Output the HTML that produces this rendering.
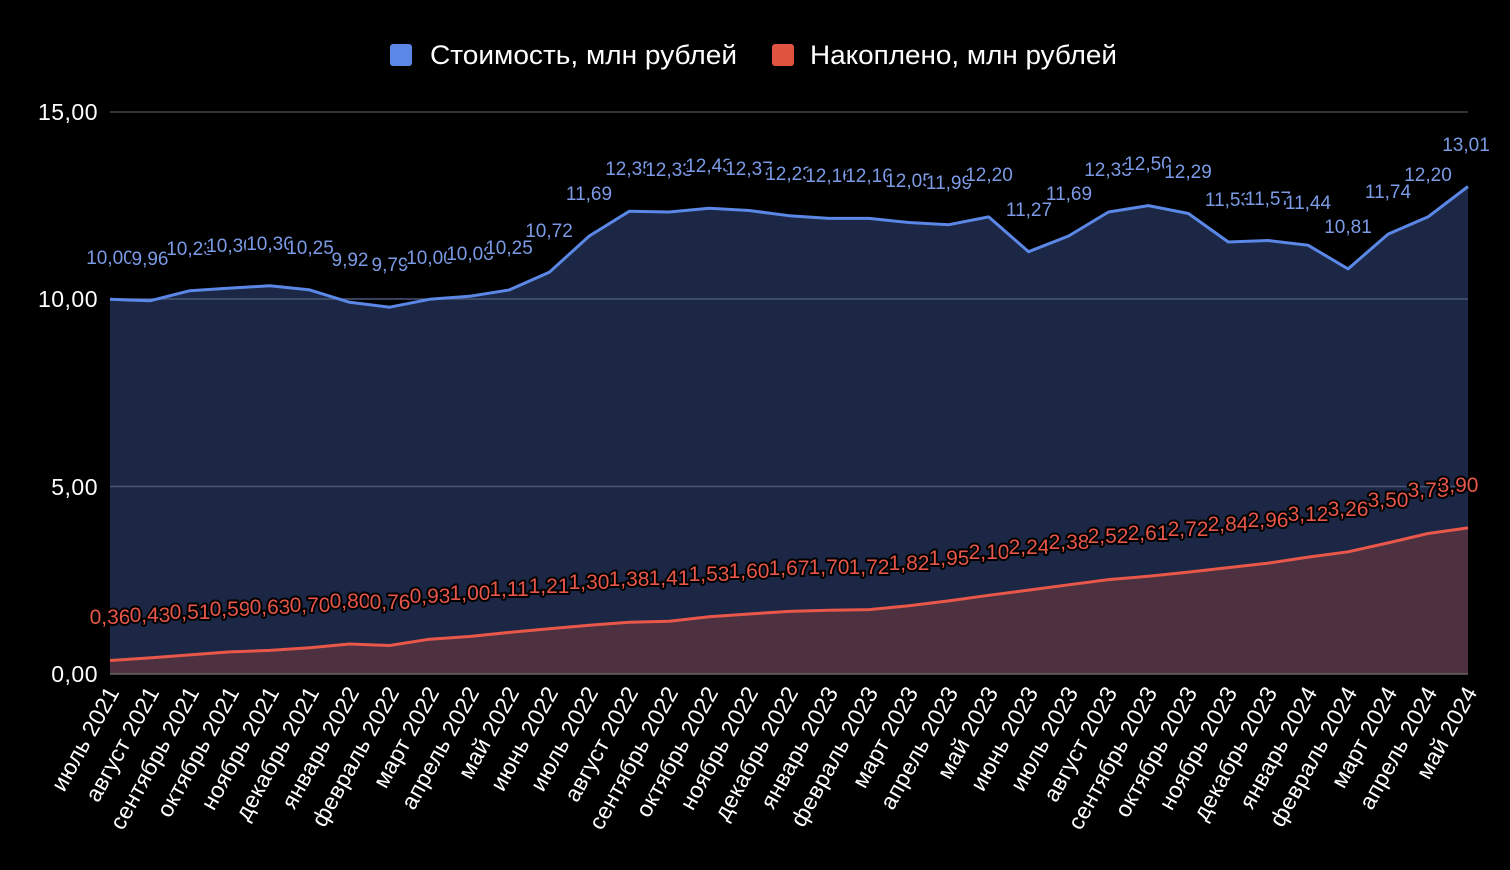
<!DOCTYPE html>
<html><head><meta charset="utf-8"><style>
html,body{margin:0;padding:0;background:#000;}
svg{display:block;font-family:"Liberation Sans",sans-serif;}
.bl{fill:#7b9be6;font-size:19px;text-anchor:middle;paint-order:stroke;stroke:#000;stroke-width:4px;stroke-linejoin:round;}
.rl{fill:#e8574a;font-size:21px;text-anchor:middle;paint-order:stroke;stroke:#000;stroke-width:4px;stroke-linejoin:round;}
.xl{fill:#fff;font-size:23px;text-anchor:end;letter-spacing:0.3px;}
.yl{fill:#fff;font-size:23px;text-anchor:end;letter-spacing:0.5px;}
</style></head><body>
<svg width="1510" height="870" viewBox="0 0 1510 870">
<rect width="1510" height="870" fill="#000"/>
<rect x="390" y="44" width="22" height="22" rx="3" fill="#5b87e6"/>
<text x="430" y="64" fill="#fff" font-size="27" textLength="307" lengthAdjust="spacingAndGlyphs">Стоимость, млн рублей</text>
<rect x="772" y="44" width="22" height="22" rx="3" fill="#e0533f"/>
<text x="810" y="64" fill="#fff" font-size="27" textLength="307" lengthAdjust="spacingAndGlyphs">Накоплено, млн рублей</text>
<line x1="110" y1="112" x2="1468" y2="112" stroke="#444" stroke-width="1.5"/>
<polygon fill="#1b2744" points="110,674 110,299.3 149.9,300.8 189.9,290.7 229.8,288.1 269.8,285.8 309.7,289.9 349.6,302.3 389.6,307.2 429.5,299.3 469.5,296.3 509.4,289.9 549.3,272.3 589.3,236 629.2,211.3 669.2,212 709.1,208.2 749,210.5 789,215.7 828.9,218.4 868.9,218.4 908.8,222.5 948.7,224.7 988.7,216.9 1028.6,251.7 1068.6,236 1108.5,212 1148.4,205.6 1188.4,213.5 1228.3,242 1268.3,240.5 1308.2,245.3 1348.1,268.9 1388.1,234.1 1428,216.9 1468,186.5 1468,674"/>
<line x1="110" y1="299" x2="1468" y2="299" stroke="#4a5677" stroke-width="1.5"/>
<line x1="110" y1="486.5" x2="1468" y2="486.5" stroke="#4a5677" stroke-width="1.5"/>
<polygon fill="#4e3140" points="110,674 110,660.5 149.9,657.9 189.9,654.9 229.8,651.9 269.8,650.4 309.7,647.8 349.6,644 389.6,645.5 429.5,639.2 469.5,636.5 509.4,632.4 549.3,628.7 589.3,625.3 629.2,622.3 669.2,621.2 709.1,616.7 749,614 789,611.4 828.9,610.3 868.9,609.6 908.8,605.8 948.7,600.9 988.7,595.3 1028.6,590.1 1068.6,584.8 1108.5,579.6 1148.4,576.2 1188.4,572.1 1228.3,567.6 1268.3,563.1 1308.2,557.1 1348.1,551.8 1388.1,542.9 1428,533.5 1468,527.9 1468,674"/>
<polyline fill="none" stroke="#5b87e6" stroke-width="3" stroke-linejoin="round" points="110,299.3 149.9,300.8 189.9,290.7 229.8,288.1 269.8,285.8 309.7,289.9 349.6,302.3 389.6,307.2 429.5,299.3 469.5,296.3 509.4,289.9 549.3,272.3 589.3,236 629.2,211.3 669.2,212 709.1,208.2 749,210.5 789,215.7 828.9,218.4 868.9,218.4 908.8,222.5 948.7,224.7 988.7,216.9 1028.6,251.7 1068.6,236 1108.5,212 1148.4,205.6 1188.4,213.5 1228.3,242 1268.3,240.5 1308.2,245.3 1348.1,268.9 1388.1,234.1 1428,216.9 1468,186.5"/>
<polyline fill="none" stroke="#e8574a" stroke-width="3" stroke-linejoin="round" points="110,660.5 149.9,657.9 189.9,654.9 229.8,651.9 269.8,650.4 309.7,647.8 349.6,644 389.6,645.5 429.5,639.2 469.5,636.5 509.4,632.4 549.3,628.7 589.3,625.3 629.2,622.3 669.2,621.2 709.1,616.7 749,614 789,611.4 828.9,610.3 868.9,609.6 908.8,605.8 948.7,600.9 988.7,595.3 1028.6,590.1 1068.6,584.8 1108.5,579.6 1148.4,576.2 1188.4,572.1 1228.3,567.6 1268.3,563.1 1308.2,557.1 1348.1,551.8 1388.1,542.9 1428,533.5 1468,527.9"/>
<line x1="110" y1="674" x2="1468" y2="674" stroke="#666" stroke-width="1.5"/>
<text class="yl" x="98" y="120">15,00</text>
<text class="yl" x="98" y="307">10,00</text>
<text class="yl" x="98" y="495">5,00</text>
<text class="yl" x="98" y="682">0,00</text>
<g class="bl">
<text x="110" y="264">10,00</text><text x="150" y="265">9,96</text><text x="190" y="255">10,23</text><text x="230" y="252">10,30</text><text x="270" y="250">10,36</text><text x="310" y="254">10,25</text><text x="350" y="266">9,92</text><text x="390" y="271">9,79</text><text x="430" y="264">10,00</text><text x="470" y="260">10,08</text><text x="509" y="254">10,25</text><text x="549" y="237">10,72</text><text x="589" y="200">11,69</text><text x="629" y="175">12,35</text><text x="669" y="176">12,33</text><text x="709" y="172">12,43</text><text x="749" y="175">12,37</text><text x="789" y="180">12,23</text><text x="829" y="182">12,16</text><text x="869" y="182">12,16</text><text x="909" y="187">12,05</text><text x="949" y="189">11,99</text><text x="989" y="181">12,20</text><text x="1029" y="216">11,27</text><text x="1069" y="200">11,69</text><text x="1108" y="176">12,33</text><text x="1148" y="170">12,50</text><text x="1188" y="178">12,29</text><text x="1228" y="206">11,53</text><text x="1268" y="205">11,57</text><text x="1308" y="209">11,44</text><text x="1348" y="233">10,81</text><text x="1388" y="198">11,74</text><text x="1428" y="181">12,20</text><text x="1466" y="151">13,01</text>
</g>
<g class="rl">
<text x="110" y="624">0,36</text><text x="150" y="622">0,43</text><text x="190" y="619">0,51</text><text x="230" y="616">0,59</text><text x="270" y="614">0,63</text><text x="310" y="612">0,70</text><text x="350" y="608">0,80</text><text x="390" y="609">0,76</text><text x="430" y="603">0,93</text><text x="470" y="600">1,00</text><text x="509" y="596">1,11</text><text x="549" y="593">1,21</text><text x="589" y="589">1,30</text><text x="629" y="586">1,38</text><text x="669" y="585">1,41</text><text x="709" y="581">1,53</text><text x="749" y="578">1,60</text><text x="789" y="575">1,67</text><text x="829" y="574">1,70</text><text x="869" y="574">1,72</text><text x="909" y="570">1,82</text><text x="949" y="565">1,95</text><text x="989" y="559">2,10</text><text x="1029" y="554">2,24</text><text x="1069" y="549">2,38</text><text x="1108" y="543">2,52</text><text x="1148" y="540">2,61</text><text x="1188" y="536">2,72</text><text x="1228" y="531">2,84</text><text x="1268" y="527">2,96</text><text x="1308" y="521">3,12</text><text x="1348" y="516">3,26</text><text x="1388" y="507">3,50</text><text x="1428" y="497">3,75</text><text x="1458" y="492">3,90</text>
</g>
<g class="xl">
<text transform="translate(120,692) rotate(-61)">июль 2021</text>
<text transform="translate(160,692) rotate(-61)">август 2021</text>
<text transform="translate(200,692) rotate(-61)">сентябрь 2021</text>
<text transform="translate(240,692) rotate(-61)">октябрь 2021</text>
<text transform="translate(280,692) rotate(-61)">ноябрь 2021</text>
<text transform="translate(320,692) rotate(-61)">декабрь 2021</text>
<text transform="translate(360,692) rotate(-61)">январь 2022</text>
<text transform="translate(400,692) rotate(-61)">февраль 2022</text>
<text transform="translate(440,692) rotate(-61)">март 2022</text>
<text transform="translate(480,692) rotate(-61)">апрель 2022</text>
<text transform="translate(520,692) rotate(-61)">май 2022</text>
<text transform="translate(559,692) rotate(-61)">июнь 2022</text>
<text transform="translate(599,692) rotate(-61)">июль 2022</text>
<text transform="translate(639,692) rotate(-61)">август 2022</text>
<text transform="translate(679,692) rotate(-61)">сентябрь 2022</text>
<text transform="translate(719,692) rotate(-61)">октябрь 2022</text>
<text transform="translate(759,692) rotate(-61)">ноябрь 2022</text>
<text transform="translate(799,692) rotate(-61)">декабрь 2022</text>
<text transform="translate(839,692) rotate(-61)">январь 2023</text>
<text transform="translate(879,692) rotate(-61)">февраль 2023</text>
<text transform="translate(919,692) rotate(-61)">март 2023</text>
<text transform="translate(959,692) rotate(-61)">апрель 2023</text>
<text transform="translate(999,692) rotate(-61)">май 2023</text>
<text transform="translate(1039,692) rotate(-61)">июнь 2023</text>
<text transform="translate(1079,692) rotate(-61)">июль 2023</text>
<text transform="translate(1118,692) rotate(-61)">август 2023</text>
<text transform="translate(1158,692) rotate(-61)">сентябрь 2023</text>
<text transform="translate(1198,692) rotate(-61)">октябрь 2023</text>
<text transform="translate(1238,692) rotate(-61)">ноябрь 2023</text>
<text transform="translate(1278,692) rotate(-61)">декабрь 2023</text>
<text transform="translate(1318,692) rotate(-61)">январь 2024</text>
<text transform="translate(1358,692) rotate(-61)">февраль 2024</text>
<text transform="translate(1398,692) rotate(-61)">март 2024</text>
<text transform="translate(1438,692) rotate(-61)">апрель 2024</text>
<text transform="translate(1478,692) rotate(-61)">май 2024</text>
</g>
</svg>
</body></html>
